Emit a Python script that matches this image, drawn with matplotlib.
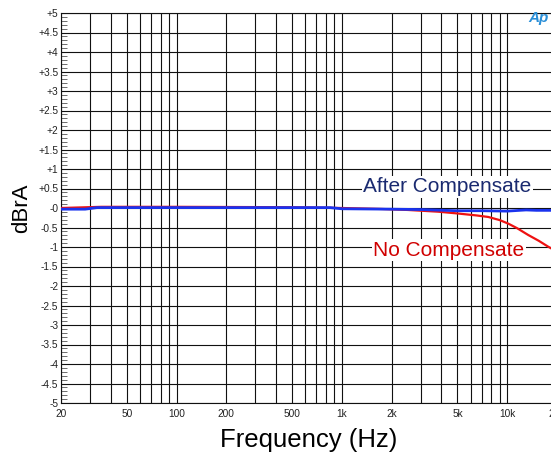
import matplotlib.pyplot as plt
from matplotlib.ticker import FixedLocator, NullFormatter
import numpy as np

plt.rcParams['font.family'] = ['Liberation Sans', 'DejaVu Sans']

# data
freq_after = [20, 28, 33, 50, 100, 200, 500, 850, 1000, 2000, 3000, 5000, 7000,
              10000, 13000, 15000, 20000]
db_after = [-0.03, -0.03, 0.01, 0.01, 0.01, 0.01, 0.01, 0.01, -0.02, -0.03, -0.04,
            -0.07, -0.07, -0.08, -0.05, -0.06, -0.06]

freq_none = [20, 35, 100, 500, 1000, 1740, 2500, 3840, 5000, 6500, 7680,
             9000, 10140, 11500, 13370, 15500, 17660, 20000]
db_none = [0.0, 0.03, 0.03, 0.02, 0.0, -0.025, -0.05, -0.095, -0.14, -0.19, -0.23,
           -0.31, -0.4, -0.52, -0.69, -0.84, -0.99, -1.12]

x_ticks = [20, 50, 100, 200, 500, 1000, 2000, 5000, 10000, 20000]
x_labels = ['20', '50', '100', '200', '500', '1k', '2k', '5k', '10k', '20k']
y_ticks = [5, 4.5, 4, 3.5, 3, 2.5, 2, 1.5, 1, 0.5, 0, -0.5, -1, -1.5, -2, -2.5,
           -3, -3.5, -4, -4.5, -5]
y_labels = ['+5', '+4.5', '+4', '+3.5', '+3', '+2.5', '+2', '+1.5', '+1', '+0.5',
            '-0', '-0.5', '-1', '-1.5', '-2', '-2.5', '-3', '-3.5', '-4', '-4.5', '-5']

fig = plt.figure(figsize=(5.51, 4.57), dpi=100)
ax = fig.add_axes([61 / 551, 54 / 457, 496 / 551, 390 / 457])

ax.set_xscale('log')
ax.set_xlim(20, 20000)
ax.set_ylim(-5, 5)

# grid: every 1-2-3..9 per decade, every 0.5 dB
grid_x = [m * 10 ** d for d in range(1, 5) for m in range(1, 10)
          if 20 <= m * 10 ** d <= 20000]
for gx in grid_x:
    ax.axvline(gx, color='#111111', lw=0.8, zorder=1)
for gy in y_ticks:
    ax.axhline(gy, color='#111111', lw=0.8, zorder=1)

ax.plot(freq_none, db_none, color='#ee1111', lw=1.6, zorder=3)
ax.plot(freq_after, db_after, color='#1a33ee', lw=2.0, zorder=4)

ax.xaxis.set_major_locator(FixedLocator(x_ticks))
ax.xaxis.set_minor_locator(FixedLocator([]))
ax.xaxis.set_minor_formatter(NullFormatter())
ax.set_xticklabels(x_labels)
ax.set_yticks(y_ticks)
ax.set_yticklabels(y_labels)
ax.yaxis.set_minor_locator(FixedLocator(np.arange(-5, 5.01, 0.1)))

ax.tick_params(axis='both', which='major', direction='in', length=0,
               labelsize=7.3, labelcolor='#222222', pad=2)
ax.tick_params(axis='y', which='minor', direction='in', length=4, width=0.6,
               color='#555555')
ax.tick_params(axis='x', which='major', pad=4)

for s in ax.spines.values():
    s.set_color('#111111')
    s.set_linewidth(0.8)

ax.set_xlabel('Frequency (Hz)', fontsize=18.5, labelpad=7)
ax.set_ylabel('dBrA', fontsize=16, labelpad=4)

ax.text(4350, 0.54, 'After Compensate', color='#1a2a70', fontsize=15,
        ha='center', va='center', zorder=5,
        bbox=dict(facecolor='white', edgecolor='none', pad=1))
ax.text(4440, -1.08, 'No Compensate', color='#d00000', fontsize=15,
        ha='center', va='center', zorder=5,
        bbox=dict(facecolor='white', edgecolor='none', pad=1))

fig.text(538 / 551, 1 - 18 / 457, 'Ap', color='#2a8fd8', fontsize=11,
         style='italic', weight='bold', ha='center', va='center')

fig.savefig('out.png', dpi=100)
